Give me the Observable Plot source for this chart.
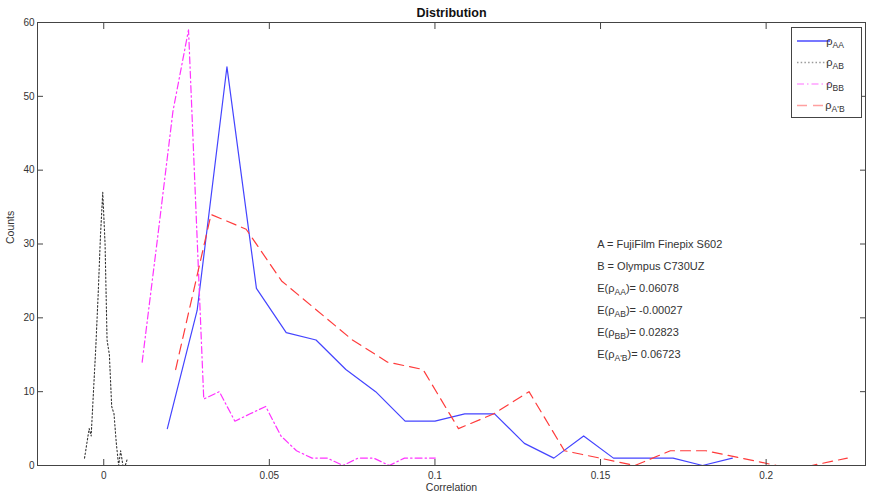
<!DOCTYPE html>
<html>
<head>
<meta charset="utf-8">
<script src="https://cdn.jsdelivr.net/npm/d3@7"></script>
<script src="https://cdn.jsdelivr.net/npm/@observablehq/plot@0.6"></script>
<style>
  html, body { margin: 0; padding: 0; background: #fff; }
</style>
</head>
<body>
<div id="chart"></div>
<script>
// ---- Data ----
const titleText = "Distribution";
const xLabel = "Correlation";
const yLabel = "Counts";

const xTicks = [0, 0.05, 0.1, 0.15, 0.2];
const xTickLabels = ["0", "0.05", "0.1", "0.15", "0.2"];
const yTicks = [0, 10, 20, 30, 40, 50, 60];
const yTickLabels = ["0", "10", "20", "30", "40", "50", "60"];

// rho_AA (blue solid)
const xAA = [0.0192, 0.0282, 0.0372, 0.0461, 0.0551, 0.0641, 0.0731, 0.0821, 0.0910, 0.1000,
             0.1090, 0.1180, 0.1270, 0.1359, 0.1449, 0.1539, 0.1629, 0.1719, 0.1808, 0.1898];
const yAA = [5, 21, 54, 24, 18, 17, 13, 10, 6, 6, 7, 7, 3, 1, 4, 1, 1, 1, 0, 1];

// rho_AB (black dotted)
const xAB = [-0.0058, -0.0051, -0.0044, -0.0038, -0.0031, -0.0024, -0.0017, -0.0010, -0.0003, 0.0004,
             0.0010, 0.0017, 0.0024, 0.0031, 0.0038, 0.0045, 0.0051, 0.0058, 0.0065, 0.0072];
const yAB = [1, 3, 5, 4, 10, 16, 23, 31, 37, 30, 17, 15, 8, 7, 3, 0, 2, 0, 0, 1];

// rho_BB (magenta dash-dot)
const xBB = [0.0116, 0.0163, 0.0209, 0.0256, 0.0302, 0.0349, 0.0396, 0.0442, 0.0489, 0.0535,
             0.0582, 0.0629, 0.0675, 0.0722, 0.0768, 0.0815, 0.0862, 0.0908, 0.0955, 0.1001];
const yBB = [14, 31, 48, 59, 9, 10, 6, 7, 8, 4, 2, 1, 1, 0, 1, 1, 0, 1, 1, 1];

// rho_A'B (red dashed)
const xApB = [0.0217, 0.0324, 0.0430, 0.0537, 0.0644, 0.0751, 0.0857, 0.0964, 0.1071, 0.1178,
              0.1284, 0.1391, 0.1498, 0.1604, 0.1711, 0.1818, 0.1925, 0.2031, 0.2138, 0.2245];
const yApB = [13, 34, 32, 25, 21, 17, 14, 13, 5, 7, 10, 2, 1, 0, 2, 2, 1, 0, 0, 1];

const seriesNames = ["ρ_{AA}", "ρ_{AB}", "ρ_{BB}", "ρ_{A'B}"];

const annLines = [
  "A = FujiFilm Finepix S602",
  "B = Olympus C730UZ",
  "E(ρ_{AA})= 0.06078",
  "E(ρ_{AB})= -0.00027",
  "E(ρ_{BB})= 0.02823",
  "E(ρ_{A'B})= 0.06723"
];
const annX = 0.149;
const annY = [30, 27, 24, 21, 18, 15];

// ---- Styles ----
const FONT = "'Liberation Sans', Arial, Helvetica, sans-serif";
const styles = [
  {stroke: "#4444ff", legend: "#4a4aff", strokeWidth: 1.2, dash: null},
  {stroke: "#333333", legend: "#9a9a9a", strokeWidth: 1.1, dash: "1.5,2.2"},
  {stroke: "#ff33ff", legend: "#ffa0ff", strokeWidth: 1.2, dash: "7,3,1.5,3"},
  {stroke: "#ff3b3b", legend: "#ffa0a0", strokeWidth: 1.2, dash: "10,6"}
];

const toRows = (xs, ys) => xs.map((x, i) => ({x, y: ys[i]}));
const seriesData = [toRows(xAA, yAA), toRows(xAB, yAB), toRows(xBB, yBB), toRows(xApB, yApB)];
const annData = annLines.map((t, i) => ({t, x: annX, y: annY[i]}));

const chart = Plot.plot({
  width: 870,
  height: 501,
  marginLeft: 37,
  marginRight: 5,
  marginTop: 22,
  marginBottom: 36,
  style: {fontFamily: FONT, fontSize: "10px", color: "#333", background: "#fff"},
  x: {domain: [-0.02, 0.23], label: null},
  y: {domain: [0, 60], label: null},
  marks: [
    ...seriesData.map((d, i) => Plot.line(d, {
      x: "x", y: "y",
      stroke: styles[i].stroke,
      strokeWidth: styles[i].strokeWidth,
      strokeDasharray: styles[i].dash
    })),
    Plot.frame({stroke: "#444", strokeWidth: 1}),
    Plot.axisX(xTicks, {anchor: "bottom", tickSize: -6, tickPadding: 12, label: null,
      tickFormat: d => xTickLabels[xTicks.indexOf(d)], stroke: "#444"}),
    Plot.axisX(xTicks, {anchor: "top", tickSize: -6, label: null, tickFormat: () => "", stroke: "#444"}),
    Plot.axisY(yTicks, {anchor: "left", tickSize: -6, tickPadding: 9, label: null,
      tickFormat: d => yTickLabels[yTicks.indexOf(d)], stroke: "#444"}),
    Plot.axisY(yTicks, {anchor: "right", tickSize: -6, label: null, tickFormat: () => "", stroke: "#444"}),
    Plot.text(annData, {x: "x", y: "y", text: "t", textAnchor: "start", fontSize: 11, fill: "#333"}),
    Plot.text([titleText], {frameAnchor: "top", dy: -14, fontWeight: "bold", fontSize: 12.5, fill: "#111"}),
    Plot.text([xLabel], {frameAnchor: "bottom", dy: 25, fontSize: 10.5, fill: "#333"}),
    Plot.text([yLabel], {frameAnchor: "left", dx: -27, rotate: -90, fontSize: 10.5, fill: "#333"})
  ]
});
document.getElementById("chart").append(chart);

// ---- Legend box (top-right, inside the axes) ----
const svg = d3.select(chart);
const lg = svg.append("g").attr("font-family", FONT).attr("font-size", 11).attr("fill", "#333");
lg.append("rect").attr("x", 791.5).attr("y", 27.5).attr("width", 70).attr("height", 90)
  .attr("fill", "#fff").attr("stroke", "#444").attr("stroke-width", 1);
seriesNames.forEach((name, i) => {
  const yy = 41 + i * 21.5;
  lg.append("line").attr("x1", 797).attr("x2", 830).attr("y1", yy).attr("y2", yy)
    .attr("stroke", styles[i].legend).attr("stroke-width", 1.5)
    .attr("stroke-dasharray", styles[i].dash);
  lg.append("text").attr("x", 835).attr("y", yy).attr("dy", "0.32em").text(name);
});

// ---- Subscript rendering for "_{...}" ----
svg.selectAll("text").each(function() {
  const s = this.textContent;
  if (!s || s.indexOf("_{") < 0) return;
  const parts = s.split(/_\{([^}]*)\}/);
  this.textContent = "";
  const sel = d3.select(this);
  let shifted = false;
  parts.forEach((p, k) => {
    if (p === "") { return; }
    const ts = sel.append("tspan").text(p);
    if (k % 2 === 1) {
      ts.attr("font-size", "0.78em").attr("dy", 3);
      shifted = true;
    } else if (shifted) {
      ts.attr("dy", -3);
      shifted = false;
    }
  });
});
</script>
</body>
</html>
